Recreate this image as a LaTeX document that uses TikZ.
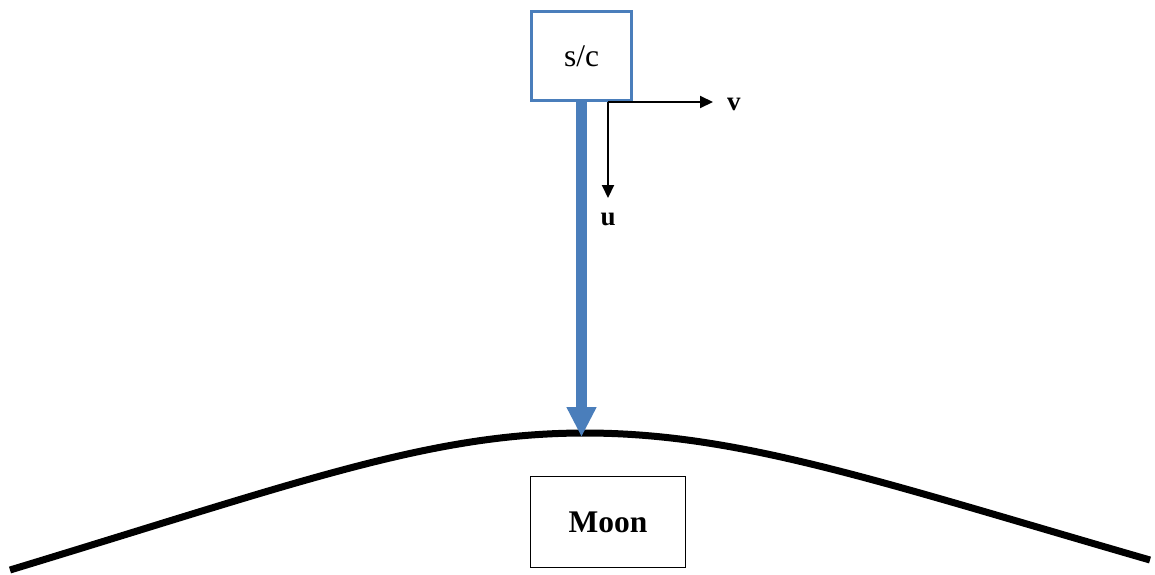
\documentclass[tikz,border=0pt]{standalone}
\usepackage{fontspec}
\setmainfont{Liberation Serif}
\usetikzlibrary{arrows.meta, positioning, calc}
\definecolor{craftblue}{HTML}{4A7EBB}
\definecolor{inkblack}{HTML}{000000}
\tikzset{
  craftbox/.style={draw=craftblue, line width=3pt, fill=white,
        minimum width=100pt, minimum height=89pt, inner sep=0pt},
  bodybox/.style={draw=inkblack, line width=1.3pt, fill=white,
        minimum width=155pt, minimum height=91pt, inner sep=0pt},
  veclabel/.style={inner sep=0pt, font=\fontsize{27}{30}\selectfont\bfseries},
  vecarrow/.style={-{Triangle[length=13pt, width=12pt]}, inkblack, line width=2pt},
}

\begin{document}
\begin{tikzpicture}[x=1pt, y=-1pt]
      \useasboundingbox (0,0) rectangle (1155,574);
      % lunar surface
      \draw[inkblack, line width=7pt] (10,570) .. controls (300,482) and (430,433) .. (585,433)
            .. controls (740,433) and (880,482) .. (1150,560);
      \node[craftbox] (sc) at (581.5,56) {\fontsize{31.5}{34}\selectfont s/c};
      \coordinate (peak) at (sc.south |- 0,437);
      \node[bodybox] (moon) at (608,522) {\fontsize{31.5}{34}\selectfont\bfseries Moon};
      \draw[-{Triangle[length=30pt, width=28pt]}, craftblue, line width=10.5pt] (sc.south) -- (peak);
      % velocity components
      \coordinate (corner) at (608,102);
      \coordinate (vtip) at (713,102);
      \coordinate (utip) at (608,198);
      \node[veclabel, anchor=west] (vlab) at (727,104) {v};
      \node[veclabel] (ulab) at (608,219) {u};
      \draw[vecarrow] (corner) -- (vtip);
      \draw[vecarrow] (corner) -- (utip);
    \end{tikzpicture}
\end{document}
